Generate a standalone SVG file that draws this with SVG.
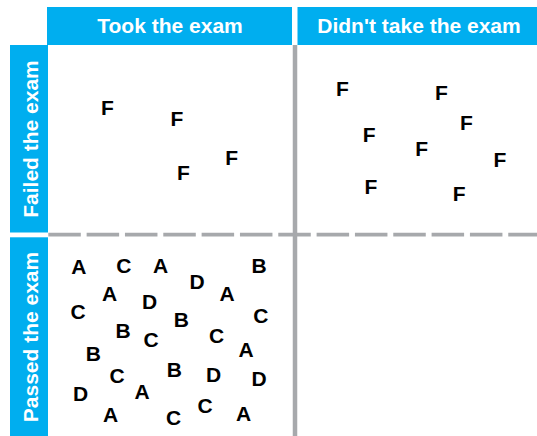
<svg xmlns="http://www.w3.org/2000/svg" width="537" height="436" viewBox="0 0 537 436">
<style>
.bar{fill:#00AEEF}
.hd{font-family:"Liberation Sans",Arial,sans-serif;font-weight:bold;font-size:21px;fill:#fff;text-anchor:middle}
.l{font-family:"Liberation Sans",Arial,sans-serif;font-weight:bold;font-size:21px;fill:#000;text-anchor:middle}
.grid{stroke:#A7A9AC;fill:none}
</style>
<rect width="537" height="436" fill="#fff"/>
<g id="header-took">
<rect class="bar" x="47" y="7" width="245" height="38"/>
<text class="hd" x="170" y="33">Took the exam</text>
</g>
<g id="header-didnt">
<rect class="bar" x="297.5" y="7" width="239.5" height="38"/>
<text class="hd" x="419" y="33">Didn't take the exam</text>
</g>
<g id="label-failed">
<rect class="bar" x="10" y="45" width="38" height="187.5"/>
<text class="hd" transform="translate(37.5,139) rotate(-90)">Failed the exam</text>
</g>
<g id="label-passed">
<rect class="bar" x="10" y="237.3" width="38" height="198.7"/>
<text class="hd" transform="translate(37.5,337) rotate(-90)">Passed the exam</text>
</g>
<g id="connectors">
<line class="grid" x1="295" y1="45" x2="295" y2="436" stroke-width="4.5"/>
<line class="grid" x1="48.3" y1="234.7" x2="537" y2="234.7" stroke-width="3.8" stroke-dasharray="32.5 5.83"/>
</g>
<g id="cell-took-failed">
<text class="l" x="107.5" y="115.3">F</text>
<text class="l" x="177" y="126">F</text>
<text class="l" x="183.5" y="180">F</text>
<text class="l" x="231.7" y="165">F</text>
</g>
<g id="cell-didnt-failed">
<text class="l" x="342.5" y="96">F</text>
<text class="l" x="441.5" y="100">F</text>
<text class="l" x="466.5" y="130">F</text>
<text class="l" x="369.2" y="141.7">F</text>
<text class="l" x="421.7" y="155.7">F</text>
<text class="l" x="499.8" y="166.7">F</text>
<text class="l" x="370.8" y="194">F</text>
<text class="l" x="459.2" y="200.7">F</text>
</g>
<g id="cell-took-passed">
<text class="l" x="78.8" y="274">A</text>
<text class="l" x="123.8" y="273">C</text>
<text class="l" x="160.5" y="273.3">A</text>
<text class="l" x="197" y="289">D</text>
<text class="l" x="259" y="273.3">B</text>
<text class="l" x="109.5" y="301">A</text>
<text class="l" x="149.7" y="309">D</text>
<text class="l" x="227" y="301">A</text>
<text class="l" x="78" y="318.5">C</text>
<text class="l" x="181.3" y="326.7">B</text>
<text class="l" x="260.8" y="322.8">C</text>
<text class="l" x="123" y="338.3">B</text>
<text class="l" x="151" y="346.8">C</text>
<text class="l" x="216.7" y="342.8">C</text>
<text class="l" x="246" y="356.7">A</text>
<text class="l" x="93.3" y="360.7">B</text>
<text class="l" x="117" y="382.8">C</text>
<text class="l" x="174.3" y="377">B</text>
<text class="l" x="213.7" y="382">D</text>
<text class="l" x="259" y="385.7">D</text>
<text class="l" x="80.7" y="400.7">D</text>
<text class="l" x="142" y="399">A</text>
<text class="l" x="110.5" y="421.7">A</text>
<text class="l" x="173.7" y="424.6">C</text>
<text class="l" x="205" y="412.8">C</text>
<text class="l" x="243.7" y="420.7">A</text>
</g>
</svg>
